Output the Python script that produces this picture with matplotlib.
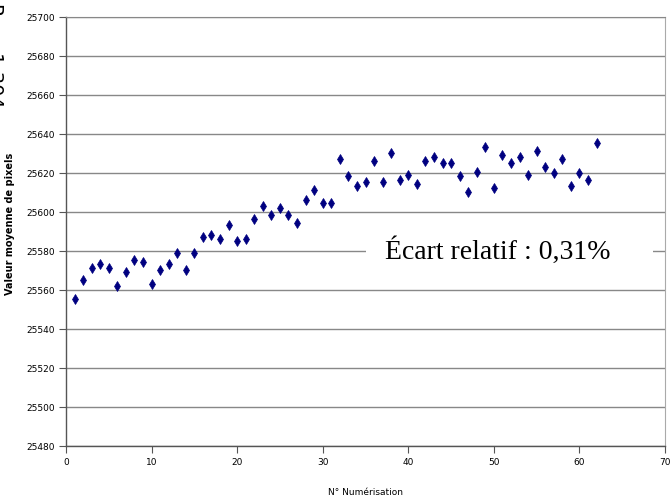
import matplotlib
matplotlib.use('Agg')
import matplotlib.pyplot as plt
from matplotlib.patches import Rectangle

# N° de numérisation et valeur moyenne de pixels
numeros = list(range(1, 63))
valeurs = [25555.4, 25565.0, 25571.3, 25573.5, 25571.3, 25562.2, 25569.2, 25575.2,
           25574.2, 25563.2, 25570.3, 25573.5, 25579.1, 25570.3, 25579.1, 25587.2,
           25588.4, 25586.2, 25593.2, 25585.0, 25586.2, 25596.4, 25603.1, 25598.3,
           25602.0, 25598.3, 25594.2, 25606.2, 25611.1, 25604.8, 25604.8, 25627.0,
           25618.3, 25613.3, 25615.2, 25626.2, 25615.2, 25630.4, 25616.2, 25619.1,
           25614.5, 25626.2, 25628.2, 25625.0, 25625.0, 25618.3, 25610.3, 25620.7,
           25633.2, 25612.3, 25629.4, 25625.0, 25628.2, 25619.0, 25631.1, 25622.9,
           25620.0, 25627.0, 25613.3, 25620.0, 25616.2, 25635.2]

x_ticks = list(range(0, 71, 10))
y_ticks = list(range(25480, 25701, 20))

fig = plt.figure(figsize=(6.71, 5.02), dpi=100)
ax = fig.add_axes([66/671, 55/502, 599/671, 429/502])

ax.plot(numeros, valeurs, linestyle='none', marker='d', markersize=5,
        color='#000080', markeredgewidth=0.5)

ax.set_xlim(0, 70)
ax.set_ylim(25480, 25700)
ax.set_xticks(x_ticks)
ax.set_yticks(y_ticks)
ax.tick_params(labelsize=6.5, length=5, width=0.8, color='#555555', pad=3)
ax.grid(axis='y', color='#888888', linewidth=1)
ax.set_axisbelow(True)
for s in ['left', 'bottom']:
    ax.spines[s].set_color('#555555')
    ax.spines[s].set_linewidth(1)
ax.spines['top'].set_color('#888888')
ax.spines['right'].set_color('#aaaaaa')

ax.set_xlabel('N° Numérisation', fontsize=6.5, labelpad=15)
ax.set_ylabel('Valeur moyenne de pixels', fontsize=7, fontweight='bold')
ax.yaxis.set_label_coords(-0.085, 0.52)

# zone blanche derrière l'annotation
ax.add_patch(Rectangle((0.501, 0.40), 0.479, 0.11, transform=ax.transAxes,
                       facecolor='white', edgecolor='none', zorder=2))
ax.text(0.533, 0.456, 'Écart relatif : 0,31%', transform=ax.transAxes,
        ha='left', va='center', fontsize=20, family='Liberation Serif', zorder=3)

# texte coupé en haut à gauche (hors du cadre)
fig.text(-0.022, 0.995, 'P      1 304', rotation=-90, fontsize=14,
         ha='left', va='top')

fig.savefig('out.png', dpi=100)
